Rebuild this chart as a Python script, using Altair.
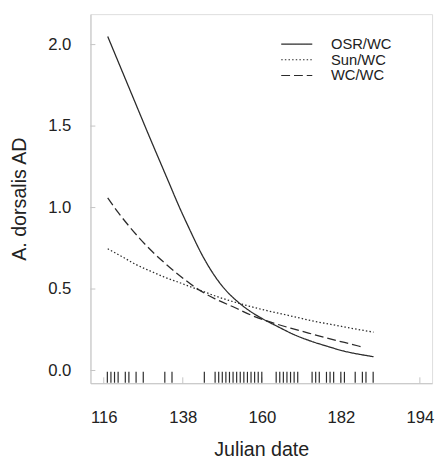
import altair as alt
import pandas as pd

# ---- data ----
osr_x = [117.1, 120, 123.4, 126, 128.8, 131.5, 134.3, 137, 139.5, 143.6, 146, 149.1,
         153.4, 157, 160, 164.4, 169, 173.7, 178, 182.7, 187, 191.1]
osr_y = [2.05, 1.896, 1.716, 1.578, 1.43, 1.29, 1.145, 1.005, 0.885, 0.70, 0.61, 0.515,
         0.42, 0.36, 0.32, 0.27, 0.22, 0.18, 0.15, 0.12, 0.10, 0.085]

sun_x = [117.1, 121, 125, 129, 132.7, 137, 142.5, 148, 154, 160, 165, 169, 175, 180, 185.5, 191.1]
sun_y = [0.747, 0.70, 0.65, 0.61, 0.575, 0.54, 0.495, 0.45, 0.41, 0.375, 0.35, 0.33, 0.30, 0.28, 0.257, 0.235]

wc_x = [117.1, 120, 123, 126.1, 129.5, 132.7, 137, 142.5, 147, 152.6, 157, 162.7, 168, 173, 178, 183, 188.4]
wc_y = [1.06, 0.97, 0.887, 0.808, 0.73, 0.665, 0.585, 0.495, 0.44, 0.385, 0.34, 0.295, 0.26, 0.23, 0.2, 0.172, 0.142]

series_names = ["OSR/WC", "Sun/WC", "WC/WC"]

rug_days = [117, 118, 119, 120, 122, 123, 125, 127, 133, 135, 144, 147, 148, 149, 150, 151,
            152, 153, 154, 155, 156, 157, 158, 159, 160, 164, 165, 166, 167, 168, 169, 170,
            174, 175, 176, 178, 179, 180, 182, 183, 186, 188, 189, 191]

x_tick_values = [116, 138, 160, 182, 204]
x_tick_labels = ["116", "138", "160", "182", "194"]
y_tick_values = [0.0, 0.5, 1.0, 1.5, 2.0]

x_domain = [112.3, 207.4]
y_domain = [-0.078, 2.187]

# ---- tables ----
rows = []
for name, xs, ys in zip(series_names, [osr_x, sun_x, wc_x], [osr_y, sun_y, wc_y]):
    for xv, yv in zip(xs, ys):
        rows.append({"series": name, "day": xv, "ad": yv})
curves = pd.DataFrame(rows)
rug = pd.DataFrame({"day": rug_days})
xt = pd.DataFrame({"v": x_tick_values})
yt = pd.DataFrame({"v": y_tick_values})

label_map = "{" + ",".join(f"'{v}':'{l}'" for v, l in zip(x_tick_values, x_tick_labels)) + "}"

FONT = "Liberation Sans"
AXIS_COL = "#c4c4c4"
INK = "#2b2b2b"

xscale = alt.Scale(domain=x_domain, nice=False, zero=False)
yscale = alt.Scale(domain=y_domain, nice=False, zero=False)

x_axis = alt.Axis(values=x_tick_values, labelExpr=f"{label_map}[datum.value + '']",
                  title="Julian date", grid=False, ticks=False, tickSize=0,
                  domainColor=AXIS_COL, domainWidth=1, labelFontSize=17, labelFont=FONT,
                  labelColor="#222", labelPadding=27, titleFontSize=20, titleFont=FONT,
                  titleFontWeight="normal", titleColor="#222", titlePadding=15)
y_axis = alt.Axis(values=y_tick_values, format=".1f", title="A. dorsalis AD", grid=False,
                  ticks=False, tickSize=0, domainColor=AXIS_COL, domainWidth=1,
                  labelFontSize=17, labelFont=FONT, labelColor="#222", labelPadding=20,
                  titleFontSize=20, titleFont=FONT, titleFontWeight="normal",
                  titleColor="#222", titlePadding=19)

lines = alt.Chart(curves).mark_line(color=INK, strokeWidth=1.3, interpolate="monotone").encode(
    x=alt.X("day:Q", scale=xscale, axis=x_axis),
    y=alt.Y("ad:Q", scale=yscale, axis=y_axis),
    strokeDash=alt.StrokeDash(
        "series:N",
        scale=alt.Scale(domain=series_names, range=[[1, 0], [1.5, 2.2], [9, 4]]),
        legend=alt.Legend(title=None, orient="none", legendX=190, legendY=23,
                          symbolType="M-1,0H9", symbolSize=40, symbolStrokeWidth=1.2,
                          symbolStrokeColor=INK, labelFontSize=15, labelFont=FONT,
                          labelColor="#222", labelOffset=40, rowPadding=-7),
    ),
)

rug_marks = alt.Chart(rug).mark_rule(color=INK, strokeWidth=1.2).encode(
    x=alt.X("day:Q", scale=xscale),
    y=alt.datum(-0.075),
    y2=alt.datum(-0.008),
)

x_ticks = alt.Chart(xt).mark_rule(color=AXIS_COL, strokeWidth=1).encode(
    x=alt.X("v:Q", scale=xscale),
    y=alt.value(376),
    y2=alt.value(370),
)
y_ticks = alt.Chart(yt).mark_rule(color=AXIS_COL, strokeWidth=1).encode(
    y=alt.Y("v:Q", scale=yscale),
    x=alt.value(0),
    x2=alt.value(5),
)

chart = alt.layer(x_ticks, y_ticks, rug_marks, lines).properties(
    width=348, height=376,
    autosize=alt.AutoSizeParams(type="none"),
    padding={"left": 84, "top": 2, "right": 4, "bottom": 75},
).configure_view(stroke=None).configure(background="white")

chart.save("out.html", embed_options={"renderer": "svg", "actions": False})
